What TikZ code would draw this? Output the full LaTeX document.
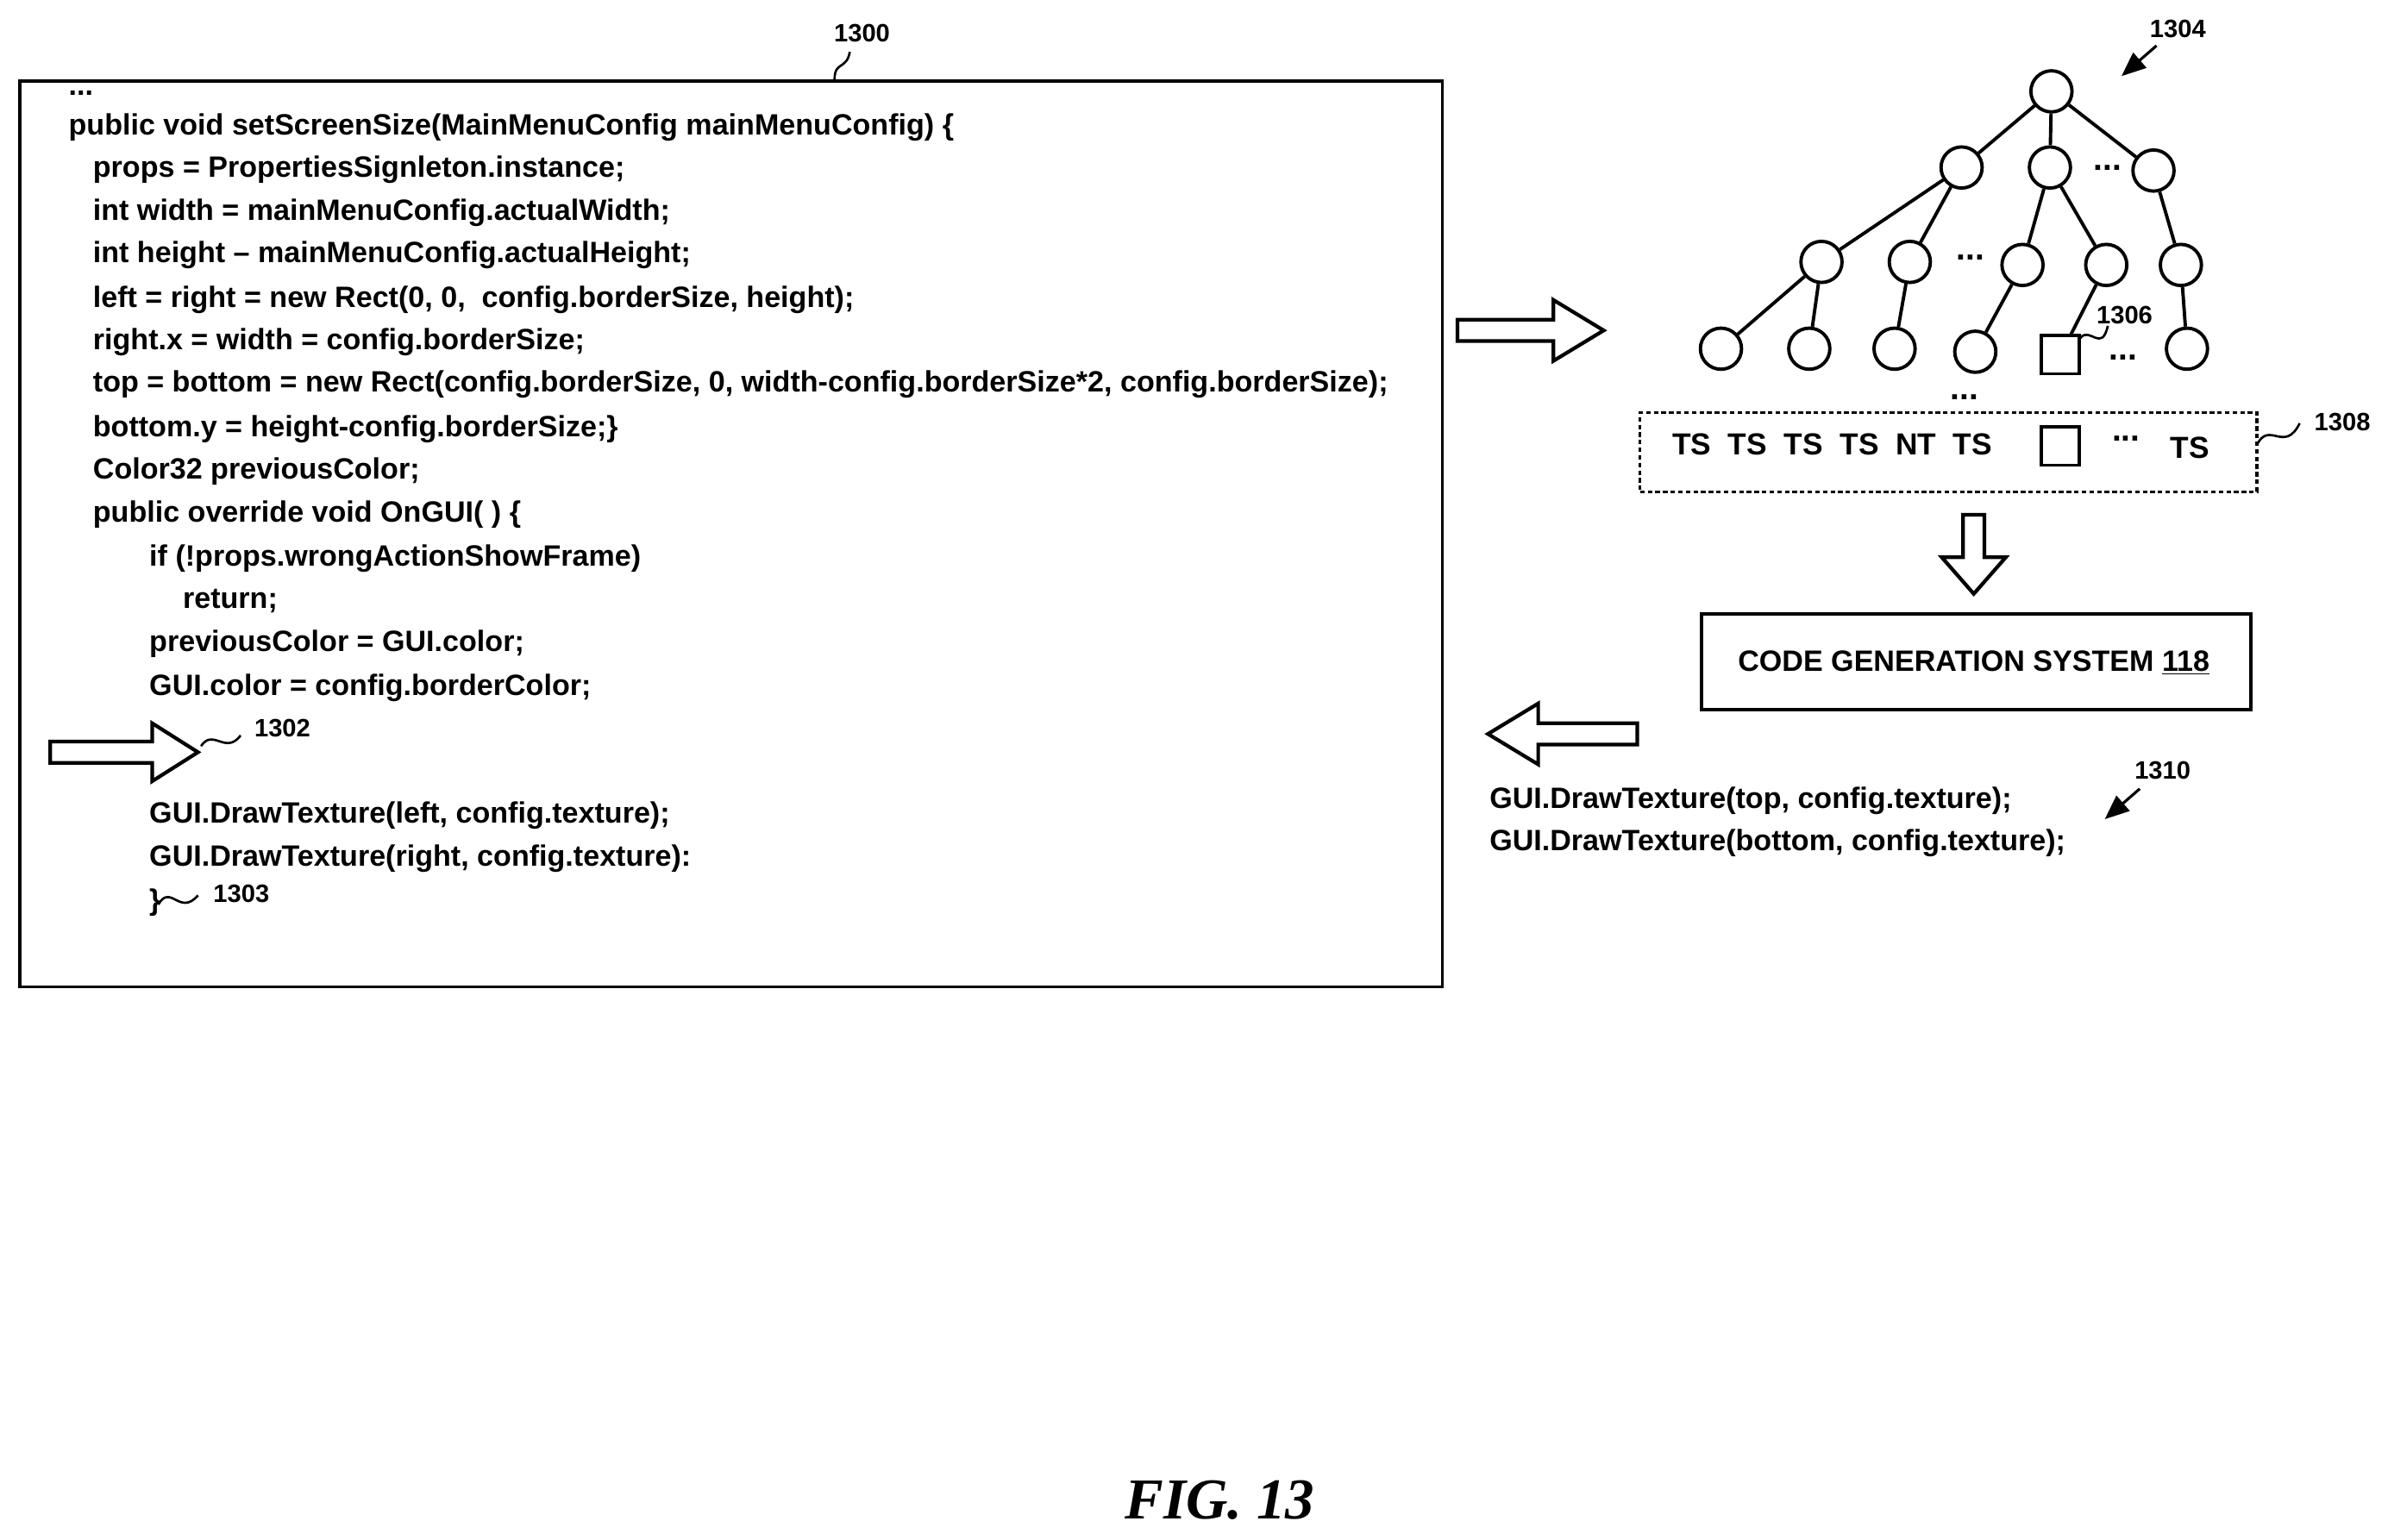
\documentclass[tikz,border=0pt]{standalone}
\usepackage{fontspec}
\setmainfont{Liberation Sans}
\newfontfamily\figfont{Liberation Serif}
\usetikzlibrary{arrows.meta}
\begin{document}
\begin{tikzpicture}[x=1pt,y=-1pt,line width=2.2pt,
  code/.style={anchor=mid west,inner sep=0pt,font=\fontsize{19.3}{22}\selectfont\bfseries},
  lbl/.style={inner sep=0pt,font=\fontsize{16.5}{18}\selectfont\bfseries},
  dots/.style={inner sep=0pt,font=\fontsize{22}{22}\selectfont\bfseries},
  tn/.style={circle,draw,minimum size=27pt,inner sep=0pt},
  sq/.style={rectangle,draw,minimum size=25pt,inner sep=0pt},
  hollow/.style={draw,fill=white,line width=2.4pt,line join=miter}]
\useasboundingbox (0,0) rectangle (1568,1011);
% left box
\node[draw,minimum width=934pt,minimum height=595pt,anchor=north west,inner sep=0pt] (box) at (12,52) {};
\node[lbl] (l1300) at (566,22) {1300};
\draw[line width=1.5pt] (548,52) .. controls (548,40) and (556,46) .. (558,34);
\node[code] (c0) at (44,60) {...};
\node[code] (c1) at (44,86) {public void setScreenSize(MainMenuConfig mainMenuConfig) \{};
\node[code] (c2) at (60,114) {props = PropertiesSignleton.instance;};
\node[code] (c3) at (60,142) {int width = mainMenuConfig.actualWidth;};
\node[code] (c4) at (60,170) {int height -- mainMenuConfig.actualHeight;};
\node[code] (c5) at (60,199) {left = right = new Rect(0, 0,\ \ config.borderSize, height);};
\node[code] (c6) at (60,227) {right.x = width = config.borderSize;};
\node[code] (c7) at (60,255) {top = bottom = new Rect(config.borderSize, 0, width-config.borderSize*2, config.borderSize);};
\node[code] (c8) at (60,284) {bottom.y = height-config.borderSize;\}};
\node[code] (c9) at (60,312) {Color32 previousColor;};
\node[code] (c10) at (60,340) {public override void OnGUI( ) \{};
\node[code] (c11) at (97,369) {if (!props.wrongActionShowFrame)};
\node[code] (c12) at (119,397) {return;};
\node[code] (c13) at (97,425) {previousColor = GUI.color;};
\node[code] (c14) at (97,454) {GUI.color = config.borderColor;};
\node[code] (c15) at (97,538) {GUI.DrawTexture(left, config.texture);};
\node[code] (c16) at (97,566) {GUI.DrawTexture(right, config.texture):};
\node[code] (c17) at (97,595) {\}};
\draw[line width=1.5pt] (104,594) .. controls (112,580) and (118,602) .. (130,588);
\node[lbl,anchor=mid west] (l1303) at (139,590) {1303};
% arrow 1302
\draw[hollow] (33,487) -- (100,487) -- (100,475) -- (130,494) -- (100,513) -- (100,501) -- (33,501) -- cycle;
\draw[line width=1.5pt] (132,490) .. controls (140,478) and (148,496) .. (158,483);
\node[lbl,anchor=mid west] (l1302) at (166,481) {1302};
% right arrow
\draw[hollow] (957,210) -- (1020,210) -- (1020,197) -- (1053,217) -- (1020,237) -- (1020,224) -- (957,224) -- cycle;
% tree
\node[tn] (r) at (1347,60) {};
\node[tn] (a) at (1288,110) {};
\node[tn] (b) at (1346,110) {};
\node[tn] (c) at (1414,112) {};
\node[dots] (db) at (1384,110) {...};
\node[tn] (aa) at (1196,172) {};
\node[tn] (ab) at (1254,172) {};
\node[dots] (dc) at (1294,169) {...};
\node[tn] (ba) at (1328,174) {};
\node[tn] (bb) at (1383,174) {};
\node[tn] (ca) at (1432,174) {};
\node[tn] (x1) at (1130,229) {};
\node[tn] (x2) at (1188,229) {};
\node[tn] (x3) at (1244,229) {};
\node[tn] (x4) at (1297,231) {};
\node[sq] (x5) at (1353,233) {};
\node[dots] (dd) at (1394,235) {...};
\node[tn] (x6) at (1436,229) {};
\draw (r)--(a) (r)--(b) (r)--(c) (a)--(aa) (a)--(ab) (b)--(ba) (b)--(bb) (c)--(ca)
  (aa)--(x1) (aa)--(x2) (ab)--(x3) (ba)--(x4) (bb)--(x5) (ca)--(x6);
\node[lbl] (l1304) at (1430,19) {1304};
\draw[line width=1.8pt,-{Triangle[length=16pt,width=13pt]}] (1416,30) -- (1393,50);
\draw[line width=1.5pt] (1366,222) .. controls (1372,214) and (1380,232) .. (1384,214);
\node[lbl] (l1306) at (1395,207) {1306};
% dotted box
\node[dots] (de) at (1290,261) {...};
\node[draw,dashed,dash pattern=on 3pt off 2pt,line width=1.8pt,minimum width=405pt,minimum height=52pt,anchor=north west,inner sep=0pt] (ts) at (1076,270) {};
\node[lbl,anchor=mid west,font=\fontsize{20}{20}\selectfont\bfseries] (tstext) at (1097,296) {TS\ \ TS\ \ TS\ \ TS\ \ NT\ \ TS};
\node[sq] (tsq) at (1353,293) {};
\node[dots] (df) at (1396,288) {...};
\node[lbl,font=\fontsize{20}{20}\selectfont\bfseries] (tslast) at (1438,294) {TS};
\draw[line width=1.5pt] (1482,292) .. controls (1490,276) and (1500,298) .. (1510,278);
\node[lbl] (l1308) at (1538,277) {1308};
% down arrow
\draw[hollow] (1289,338) -- (1303,338) -- (1303,366) -- (1317,366) -- (1296,390) -- (1275,366) -- (1289,366) -- cycle;
% code gen
\node[draw,minimum width=361pt,minimum height=63pt,anchor=north west,inner sep=0pt] (cg) at (1116,402) {};
\node[code,anchor=center] (cgt) at (1296,435) {CODE GENERATION SYSTEM \underline{118}};
% left arrow
\draw[hollow] (1075,475) -- (1010,475) -- (1010,462) -- (977,482) -- (1010,502) -- (1010,489) -- (1075,489) -- cycle;
\node[code] (o1) at (977,528) {GUI.DrawTexture(top, config.texture);};
\node[code] (o2) at (977,556) {GUI.DrawTexture(bottom, config.texture);};
\node[lbl] (l1310) at (1420,506) {1310};
\draw[line width=1.8pt,-{Triangle[length=16pt,width=13pt]}] (1405,518) -- (1382,538);
\node[inner sep=0pt,font=\figfont\fontsize{38}{40}\selectfont\bfseries\itshape] (fig) at (801,985) {FIG. 13};
\end{tikzpicture}
\end{document}
